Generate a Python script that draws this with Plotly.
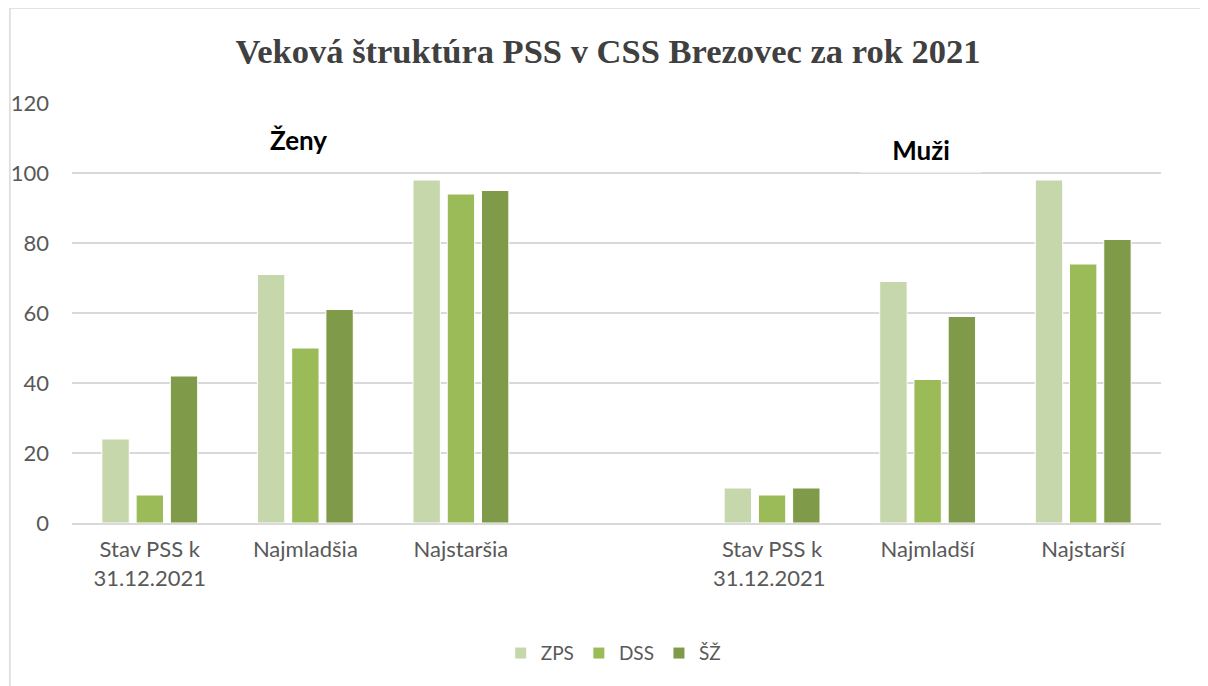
import plotly.graph_objects as go

categories = ["Stav PSS k<br>31.12.2021", "Najmladšia", "Najstaršia", " ",
              "Stav PSS k<br>31.12.2021 ", "Najmladší", "Najstarší"]
zps = [24, 71, 98, None, 10, 69, 98]
dss = [8, 50, 94, None, 8, 41, 74]
sz = [42, 61, 95, None, 10, 59, 81]
series_names = ["ZPS", "DSS", "ŠŽ"]
colors = ["#C6D7AC", "#9BBB59", "#7F9A48"]
y_ticks = [0, 20, 40, 60, 80, 100, 120]

fig = go.Figure()
for name, vals, col in zip(series_names, [zps, dss, sz], colors):
    fig.add_trace(go.Bar(x=categories, y=vals, name=name,
                         marker=dict(color=col, line=dict(color="white", width=1))))

W, H = 1200, 678
fig.update_layout(
    width=W, height=H,
    margin=dict(l=64, r=47, t=95, b=163, autoexpand=False),
    paper_bgcolor="white", plot_bgcolor="white",
    barmode="group", bargap=0.34, bargroupgap=0.2,
    title=dict(text="<b>Veková štruktúra PSS v CSS Brezovec za rok 2021</b>",
               x=0.5, xanchor="center", y=1 - 43 / H, yanchor="middle",
               font=dict(family="Liberation Serif", size=34.5, color="#404040")),
    font=dict(family="Lato", size=22, color="#595959"),
    showlegend=True,
    legend=dict(orientation="h", x=0.497, xanchor="center", y=-0.31, yanchor="middle",
                font=dict(family="Lato", size=19, color="#595959"),
                itemwidth=30, tracegroupgap=0),
    xaxis=dict(type="category", categoryorder="array", categoryarray=categories,
               showgrid=False, showline=True, linecolor="#D9D9D9", linewidth=1.5,
               ticks="", tickfont=dict(family="Lato", size=22, color="#595959"),
               ticklabelstandoff=6, range=[-0.5, 6.5], automargin=False),
    yaxis=dict(range=[0, 120], tickvals=y_ticks, showgrid=True, gridcolor="#D9D9D9",
               gridwidth=1.5, zeroline=False, showline=False, automargin=False,
               tickfont=dict(family="Lato", size=22, color="#595959"),
               ticklabelstandoff=22),
    shapes=[dict(type="rect", xref="paper", yref="paper",
                 x0=-0.057, x1=1.06, y0=-0.45, y1=1.226,
                 line=dict(color="#D9D9D9", width=1.5), fillcolor="rgba(0,0,0,0)",
                 layer="below")],
    annotations=[
        dict(text="<b>Ženy</b>", x=1, xref="x", y=109.4, yref="y", showarrow=False,
             xshift=-7, font=dict(family="Lato", size=26, color="black")),
        dict(text="<b>Muži</b>", x=5, xref="x", y=106.6, yref="y", showarrow=False,
             xshift=-7, width=100, height=24, borderpad=10, bgcolor="white",
             font=dict(family="Lato", size=26, color="black")),
    ],
)

fig.write_html("out.html")
